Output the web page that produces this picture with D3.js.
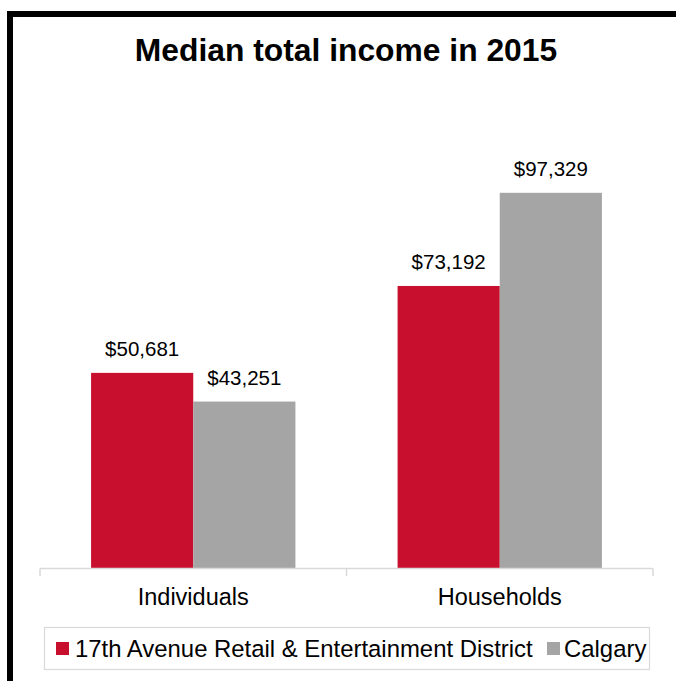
<!DOCTYPE html>
<html>
<head>
<meta charset="utf-8">
<script src="https://cdn.jsdelivr.net/npm/d3@7"></script>
<style>
  html, body { margin: 0; padding: 0; background: #fff; }
  svg { display: block; font-family: "Liberation Sans", Arial, sans-serif; }
</style>
</head>
<body>
<svg id="chart" width="676" height="681"></svg>
<script>
const title = "Median total income in 2015";
const categories = ["Individuals", "Households"];
const seriesNames = ["17th Avenue Retail & Entertainment District", "Calgary"];
const districtValues = [50681, 73192];
const calgaryValues = [43251, 97329];
const seriesColors = ["#C8102E", "#A5A5A5"];

const svg = d3.select("#chart");
const W = 676, H = 681;

// frame (thick black top/left border)
svg.append("rect").attr("x", 7).attr("y", 11).attr("width", W - 7).attr("height", 6).attr("fill", "#000");
svg.append("rect").attr("x", 7).attr("y", 11).attr("width", 6).attr("height", H - 11).attr("fill", "#000");

// title
svg.append("text")
  .attr("x", 346).attr("y", 61)
  .attr("text-anchor", "middle")
  .attr("font-size", "31.8px").attr("font-weight", "bold").attr("fill", "#000")
  .text(title);

const baseY = 568.5;
const x0 = d3.scaleBand().domain(categories).range([40, 653]).padding(0);
const x1 = d3.scaleBand().domain(seriesNames).range([0, x0.bandwidth()]).paddingInner(0).paddingOuter(0.5);
const y = d3.scaleLinear().domain([0, 120000]).range([baseY, baseY - 0.00386 * 120000]);

const data = categories.map((c, i) => ({
  cat: c,
  vals: [
    { s: seriesNames[0], v: districtValues[i], color: seriesColors[0] },
    { s: seriesNames[1], v: calgaryValues[i], color: seriesColors[1] }
  ]
}));

const fmt = d3.format("$,");

const groups = svg.append("g").selectAll("g").data(data).join("g")
  .attr("transform", d => `translate(${x0(d.cat)},0)`);

groups.selectAll("rect").data(d => d.vals).join("rect")
  .attr("x", d => x1(d.s))
  .attr("y", d => y(d.v))
  .attr("width", x1.bandwidth())
  .attr("height", d => y(0) - y(d.v))
  .attr("fill", d => d.color);

groups.selectAll("text.lbl").data(d => d.vals).join("text")
  .attr("class", "lbl")
  .attr("x", d => x1(d.s) + x1.bandwidth() / 2)
  .attr("y", d => y(d.v) - 16.5)
  .attr("text-anchor", "middle")
  .attr("font-size", "20.5px").attr("fill", "#000")
  .text(d => fmt(d.v));

// axis
const axis = svg.append("g")
  .attr("transform", `translate(0,${baseY})`)
  .call(d3.axisBottom(x0).tickSize(0).tickPadding(0));
axis.select(".domain").attr("stroke", "#d9d9d9").attr("stroke-width", 1.5)
  .attr("d", `M${x0.range()[0]},0H${x0.range()[1]}`);
axis.selectAll("text")
  .attr("y", 605 - baseY).attr("dy", 0)
  .attr("font-size", "23.5px").attr("fill", "#000")
  .attr("font-family", "'Liberation Sans', Arial, sans-serif");

const boundaries = categories.map(c => x0(c)).concat([x0(categories[categories.length - 1]) + x0.bandwidth()]);
axis.selectAll("line.bt").data(boundaries).join("line")
  .attr("class", "bt")
  .attr("x1", d => d).attr("x2", d => d)
  .attr("y1", 0).attr("y2", 7.5)
  .attr("stroke", "#d9d9d9").attr("stroke-width", 1.5);

// legend
const legend = svg.append("g");
legend.append("rect")
  .attr("x", 44.5).attr("y", 627.5).attr("width", 605).attr("height", 42)
  .attr("fill", "none").attr("stroke", "#d9d9d9").attr("stroke-width", 1.2);
const legendX = [56, 547];
const legendTextOffset = [19, 17];
seriesNames.forEach((s, i) => {
  legend.append("rect")
    .attr("x", legendX[i]).attr("y", 642).attr("width", 13).attr("height", 13)
    .attr("fill", seriesColors[i]);
  legend.append("text")
    .attr("x", legendX[i] + legendTextOffset[i]).attr("y", 657)
    .attr("font-size", "23.9px").attr("fill", "#000")
    .text(s);
});
</script>
</body>
</html>
